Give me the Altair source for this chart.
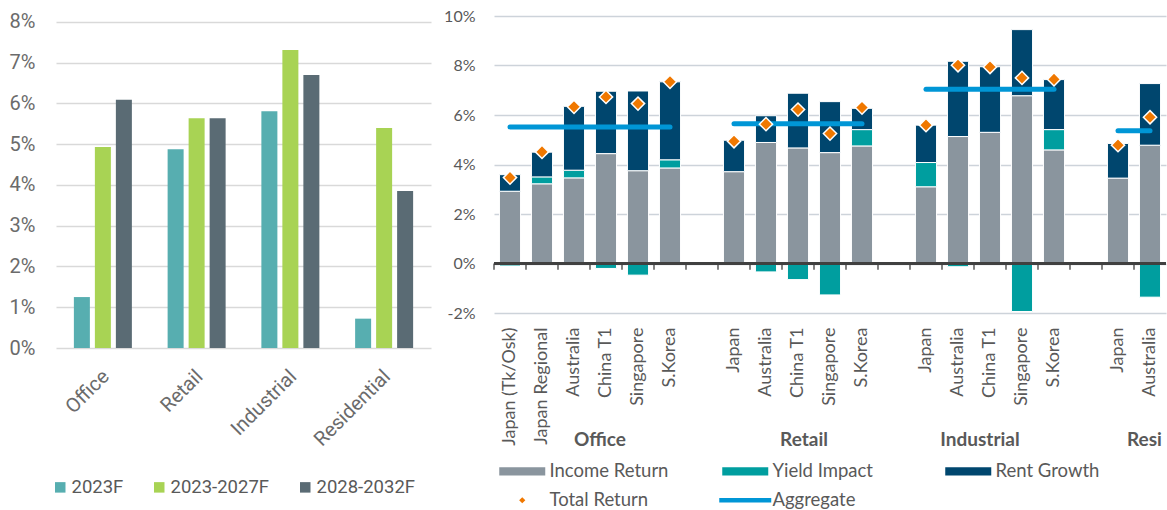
import altair as alt
import pandas as pd

# ---------------- left panel data ----------------
left_sectors = ["Office", "Retail", "Industrial", "Residential"]
left_periods = ["2023F", "2023-2027F", "2028-2032F"]
ret_2023 = [1.25, 4.88, 5.81, 0.72]
ret_2023_2027 = [4.93, 5.64, 7.31, 5.40]
ret_2028_2032 = [6.09, 5.64, 6.70, 3.85]
left_colors = ["#57AEB0", "#A8D354", "#5A6B74"]

# ---------------- right panel data ----------------
office_markets = ["Japan (Tk/Osk)", "Japan Regional", "Australia", "China T1", "Singapore", "S.Korea"]
office_income = [2.92, 3.22, 3.46, 4.44, 3.75, 3.86]
office_yield = [-0.10, 0.28, 0.31, -0.20, -0.47, 0.33]
office_rent = [0.67, 1.00, 2.58, 2.52, 3.22, 3.15]
office_total = [3.47, 4.51, 6.33, 6.73, 6.46, 7.34]

retail_markets = ["Japan", "Australia", "China T1", "Singapore", "S.Korea"]
retail_income = [3.71, 4.89, 4.67, 4.48, 4.75]
retail_yield = [0.0, -0.34, -0.65, -1.27, 0.66]
retail_rent = [1.27, 1.08, 2.21, 2.06, 0.86]
retail_total = [4.94, 5.63, 6.22, 5.25, 6.30]

industrial_markets = ["Japan", "Australia", "China T1", "Singapore", "S.Korea"]
industrial_income = [3.10, 5.13, 5.30, 6.78, 4.59]
industrial_yield = [0.98, -0.13, 0.0, -1.94, 0.82]
industrial_rent = [1.51, 3.04, 2.65, 2.67, 2.02]
industrial_total = [5.59, 8.01, 7.94, 7.50, 7.44]

resi_markets = ["Japan", "Australia"]
resi_income = [3.45, 4.78]
resi_yield = [0.0, -1.36]
resi_rent = [1.40, 2.49]
resi_total = [4.78, 5.91]

sector_names = ["Office", "Retail", "Industrial", "Resi"]
aggregate = [5.52, 5.65, 7.04, 5.36]

components = ["Income Return", "Yield Impact", "Rent Growth"]
legend_names = ["Income Return", "Yield Impact", "Rent Growth", "Total Return", "Aggregate"]
right_colors = ["#8A959E", "#009E9F", "#00466E", "#F07800", "#0096D6"]

# ---------------- build tables ----------------
left_rows = []
for i, s in enumerate(left_sectors):
    for p, vals in zip(left_periods, [ret_2023, ret_2023_2027, ret_2028_2032]):
        left_rows.append({"sector": s, "period": p, "value": vals[i]})
df_left = pd.DataFrame(left_rows)

groups = [
    ("Office", office_markets, office_income, office_yield, office_rent, office_total),
    ("Retail", retail_markets, retail_income, retail_yield, retail_rent, retail_total),
    ("Industrial", industrial_markets, industrial_income, industrial_yield, industrial_rent, industrial_total),
    ("Resi", resi_markets, resi_income, resi_yield, resi_rent, resi_total),
]

slot_order = []
bar_rows, total_rows, agg_rows = [], [], []
for gi, (sector, markets, inc, yld, rnt, tot) in enumerate(groups):
    keys = [f"{sector}|{m}" for m in markets]
    slot_order += keys
    if gi < len(groups) - 1:
        slot_order.append(f"gap{gi}")
    for k, a, b, c, t in zip(keys, inc, yld, rnt, tot):
        for comp, v, o in zip(components, [a, b, c], [0, 1, 2]):
            if v != 0:
                bar_rows.append({"slot": k, "component": comp, "value": v, "ord": o})
        total_rows.append({"slot": k, "total": t})
    agg_rows.append({"sector": sector, "start": keys[0], "end": keys[-1], "agg": aggregate[gi]})

df_bars = pd.DataFrame(bar_rows)
df_total = pd.DataFrame(total_rows)
df_agg = pd.DataFrame(agg_rows)
df_slots = pd.DataFrame({"slot": slot_order})

# ---------------- left chart ----------------
GRAY_TXT = "#6b6b6b"
left = alt.Chart(df_left).mark_bar().encode(
    x=alt.X("sector:N",
            scale=alt.Scale(domain=left_sectors, paddingInner=0.328, paddingOuter=0.164),
            axis=alt.Axis(title=None, labelAngle=-45, domain=False, ticks=False,
                          labelFont="Roboto", labelFontSize=20, labelColor=GRAY_TXT,
                          labelPadding=18, labelOffset=-4)),
    xOffset=alt.XOffset("period:N",
                        scale=alt.Scale(domain=left_periods, paddingInner=0.238, paddingOuter=0.119)),
    y=alt.Y("value:Q",
            scale=alt.Scale(domain=[0, 8.147], nice=False, zero=True),
            axis=alt.Axis(title=None, values=[0, 1, 2, 3, 4, 5, 6, 7, 8],
                          labelExpr="datum.value + '%'", grid=True, gridColor="#d9d9d9",
                          gridWidth=1.3, domain=False, ticks=False, labelPadding=21,
                          minExtent=56, maxExtent=56, labelFont="Roboto",
                          labelFontSize=20, labelColor=GRAY_TXT)),
    color=alt.Color("period:N",
                    scale=alt.Scale(domain=left_periods, range=left_colors),
                    legend=alt.Legend(title=None, orient="none", legendX=-5, legendY=462,
                                      direction="horizontal", symbolType="square",
                                      symbolSize=110, symbolStrokeWidth=0, labelOffset=2,
                                      columnPadding=26, labelFont="Roboto",
                                      labelFontSize=18.5, labelColor="#595959", padding=0)),
).properties(width=375, height=332)

# ---------------- right chart ----------------
TXT = "#595959"
AXC = "#404040"
x_scale = alt.Scale(domain=slot_order, paddingInner=0.34, paddingOuter=0.17)
x_axis = alt.Axis(title=None, orient="bottom", domain=False, ticks=False,
                  labelAngle=-90, labelPadding=14, labelFont="Lato",
                  labelFontSize=18, labelColor=TXT, grid=False,
                  labelExpr="indexof(datum.value, '|') >= 0 ? split(datum.value, '|')[1] : ''")
y_scale = alt.Scale(domain=[-2, 10], nice=False, zero=False)
y_axis = alt.Axis(title=None, values=[-2, 0, 2, 4, 6, 8, 10], labelExpr="datum.value + '%'",
                  grid=True, gridColor="#cdd3da", gridWidth=1.3, domain=False, ticks=False,
                  labelPadding=19, minExtent=50, maxExtent=50, labelFont="Lato",
                  labelFontSize=16, labelColor=TXT)
color_scale = alt.Scale(domain=legend_names, range=right_colors)

RECT = "M-1,-0.83L8.2,-0.83L8.2,0.83L-1,0.83Z"
DIAMOND = "M-1,-0.83L-1,-0.83M3.6,-0.62L4.22,0L3.6,0.62L2.98,0Z"
LINE = "M-1.6,-0.47L8.8,-0.47L8.8,0.47L-1.6,0.47Z"
shape_expr = (f"datum.value === 'Total Return' ? '{DIAMOND}' : "
              f"(datum.value === 'Aggregate' ? '{LINE}' : '{RECT}')")

right_legend = alt.Legend(
    title=None, orient="none", legendX=1, legendY=446, columns=3, direction="horizontal",
    gridAlign="all", columnPadding=49, rowPadding=10, symbolSize=100, symbolStrokeWidth=0,
    symbolType=alt.ExprRef(expr=shape_expr),
    labelOffset=36, labelFont="Lato", labelFontSize=18.5, labelColor=TXT, padding=0,
)

bars = alt.Chart(df_bars).mark_bar(stroke="white", strokeWidth=1).encode(
    x=alt.X("slot:N", scale=x_scale, axis=x_axis),
    y=alt.Y("value:Q", scale=y_scale, axis=y_axis, stack="zero"),
    color=alt.Color("component:N", scale=color_scale, legend=right_legend),
    order=alt.Order("ord:Q", sort="ascending"),
)

zero_line = alt.Chart(df_slots).mark_rule(color=AXC, strokeWidth=1.3).encode(
    y=alt.Y(datum=0, scale=y_scale, axis=y_axis),
)

slot_ticks = alt.Chart(df_slots).mark_rule(color=AXC, strokeWidth=1.3, xOffset=-16).encode(
    x=alt.X("slot:N", scale=x_scale, axis=x_axis),
    y=alt.Y(datum=0, scale=y_scale, axis=y_axis),
    y2=alt.Y2(datum=-0.25),
)

rules = alt.Chart(df_agg).mark_rule(color="#0096D6", strokeWidth=5, strokeCap="round").encode(
    x=alt.X("start:N", scale=x_scale, axis=x_axis),
    x2="end:N",
    y=alt.Y("agg:Q", scale=y_scale, axis=y_axis),
)

diamonds = alt.Chart(df_total).mark_point(shape="diamond", filled=True, size=175,
                                          color="#F07800", stroke="white",
                                          strokeWidth=1.5, opacity=1).encode(
    x=alt.X("slot:N", scale=x_scale, axis=x_axis),
    y=alt.Y("total:Q", scale=y_scale, axis=y_axis),
)

label_specs = [("Office", "Office|China T1", -6, "center"),
               ("Retail", "Retail|China T1", 6, "center"),
               ("Industrial", "Industrial|China T1", -10, "center"),
               ("Resi", "Resi|Australia", -23, "left")]
group_labels = []
for name, anchor, dx, al in label_specs:
    group_labels.append(
        alt.Chart(pd.DataFrame({"slot": [anchor], "label": [name]})).mark_text(
            font="Lato", fontWeight="bold", fontSize=19, color=TXT, align=al,
            baseline="middle", dx=dx).encode(
            x=alt.X("slot:N", scale=x_scale, axis=x_axis),
            y=alt.value(424),
            text="label:N",
        )
    )

right = alt.layer(bars, zero_line, slot_ticks, rules, diamonds,
                  *group_labels).properties(width=672, height=297)

chart = alt.hconcat(left, right, spacing=63, bounds="flush").resolve_scale(
    color="independent"
).properties(
    padding={"left": 0, "top": 8, "right": 0, "bottom": 0}
).configure_view(strokeWidth=0)

chart.save("out.html", embed_options={"renderer": "svg", "actions": False})
